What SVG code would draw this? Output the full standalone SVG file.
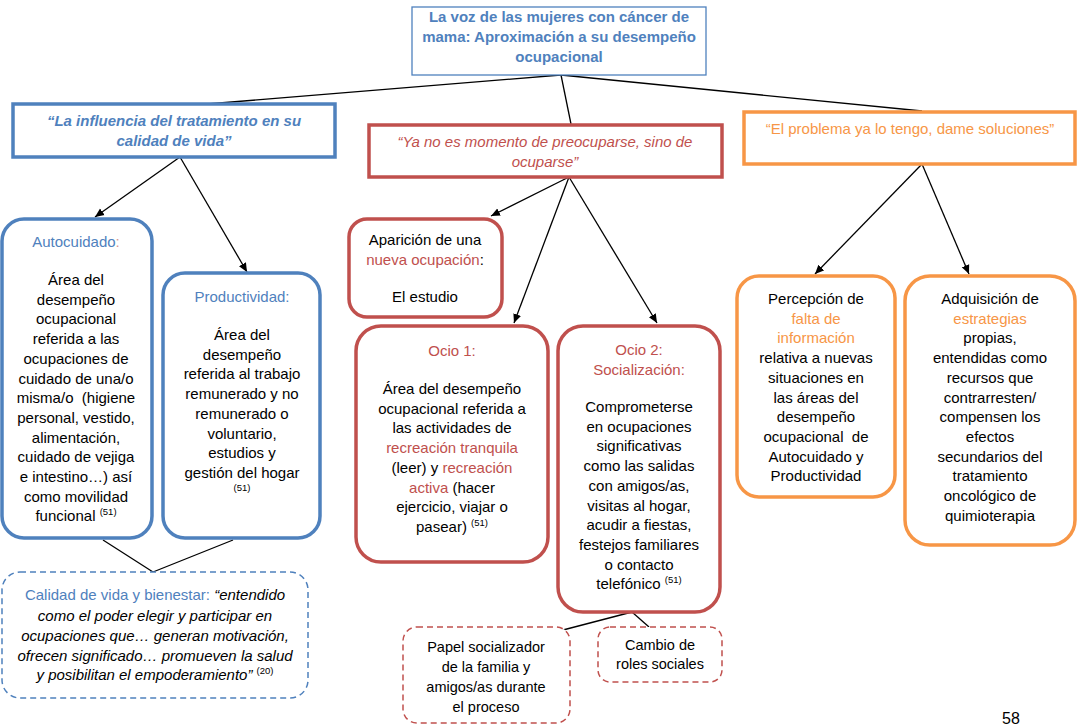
<svg xmlns="http://www.w3.org/2000/svg" width="1084" height="727" viewBox="0 0 1084 727">
<defs>
<marker id="arr" markerWidth="10" markerHeight="10" refX="9" refY="5" orient="auto" markerUnits="userSpaceOnUse">
<path d="M0,1 L9,5 L0,9 Z" fill="#000"/>
</marker>
</defs>
<style>
text{font-family:"Liberation Sans",Arial,sans-serif;font-size:15px;fill:#000;text-anchor:middle}
.b{fill:#4f81bd}.r{fill:#c0504d}.o{fill:#f79646}.pk{fill:#d99694}
.bold{font-weight:bold}.it{font-style:italic}
.sup{font-size:9.5px}
.pre{white-space:pre}
.bx{fill:#fff}
.blue{stroke:#4f81bd;stroke-width:3.5}
.red{stroke:#c0504d;stroke-width:3.5}
.org{stroke:#f79646;stroke-width:3.5}
.dash{stroke-width:1.5;stroke-dasharray:6,4}
.conn line{stroke:#000;stroke-width:1.3}
</style>
<rect width="1084" height="727" fill="#fff"/>

<g class="conn" id="connectors">
<line x1="561" y1="75" x2="207" y2="104"/>
<line x1="561" y1="75" x2="571" y2="124"/>
<line x1="561" y1="75" x2="922" y2="111"/>
<line x1="180" y1="157" x2="95" y2="217" marker-end="url(#arr)"/>
<line x1="180" y1="157" x2="247" y2="272" marker-end="url(#arr)"/>
<line x1="569" y1="177" x2="491" y2="216" marker-end="url(#arr)"/>
<line x1="569" y1="177" x2="514" y2="323" marker-end="url(#arr)"/>
<line x1="569" y1="177" x2="657" y2="323" marker-end="url(#arr)"/>
<line x1="922" y1="164" x2="815" y2="274" marker-end="url(#arr)"/>
<line x1="922" y1="164" x2="969" y2="274" marker-end="url(#arr)"/>
<line x1="103" y1="540" x2="153" y2="572"/>
<line x1="233" y1="540" x2="153" y2="572"/>
<line x1="632" y1="612" x2="563" y2="630"/>
<line x1="632" y1="612" x2="649" y2="627"/>
</g>

<g id="title">
<rect x="412" y="7" width="294" height="68" class="bx" stroke="#4f81bd" stroke-width="1.3"/>
<text class="b bold" x="559" y="22">La voz de las mujeres con cáncer de</text>
<text class="b bold" x="559" y="42">mama: Aproximación a su desempeño</text>
<text class="b bold" x="559" y="62">ocupacional</text>
</g>

<g id="influencia">
<rect x="13" y="104" width="322" height="53" class="bx blue"/>
<text class="b bold it" x="174" y="126">“La influencia del tratamiento en su</text>
<text class="b bold it" x="174" y="146">calidad de vida”</text>
</g>

<g id="yano">
<rect x="369" y="125" width="353" height="52" class="bx red"/>
<text class="r it" x="545" y="147">“Ya no es momento de preocuparse, sino de</text>
<text class="r it" x="545" y="167">ocuparse”</text>
</g>

<g id="problema">
<rect x="744" y="112" width="331" height="52" class="bx org"/>
<text class="o" x="910" y="134">“El problema ya lo tengo, dame soluciones”</text>
</g>

<g id="autocuidado">
<rect x="2" y="219" width="150" height="319" rx="22" class="bx blue"/>
<text x="76" y="247"><tspan class="b">Autocuidado</tspan><tspan class="pk">:</tspan></text>
<text x="76" y="285">Área del<tspan x="76" dy="19.7">desempeño</tspan><tspan x="76" dy="19.7">ocupacional</tspan><tspan x="76" dy="19.7">referida a las</tspan><tspan x="76" dy="19.7">ocupaciones de</tspan><tspan x="76" dy="19.7">cuidado de una/o</tspan><tspan x="76" dy="19.7" class="pre">misma/o  (higiene</tspan><tspan x="76" dy="19.7">personal, vestido,</tspan><tspan x="76" dy="19.7">alimentación,</tspan><tspan x="76" dy="19.7">cuidado de vejiga</tspan><tspan x="76" dy="19.7">e intestino…) así</tspan><tspan x="76" dy="19.7">como movilidad</tspan><tspan x="76" dy="19.7">funcional <tspan class="sup" dy="-6">(51)</tspan></tspan></text>
</g>

<g id="productividad">
<rect x="163" y="273" width="157" height="265" rx="22" class="bx blue"/>
<text class="b" x="242" y="302">Productividad:</text>
<text x="242" y="340">Área del<tspan x="242" dy="19.7">desempeño</tspan><tspan x="242" dy="19.7">referida al trabajo</tspan><tspan x="242" dy="19.7">remunerado y no</tspan><tspan x="242" dy="19.7">remunerado o</tspan><tspan x="242" dy="19.7">voluntario,</tspan><tspan x="242" dy="19.7">estudios y</tspan><tspan x="242" dy="19.7">gestión del hogar</tspan></text>
<text class="sup" x="242" y="491">(51)</text>
</g>

<g id="aparicion">
<rect x="349" y="219" width="153" height="98" rx="18" class="bx red"/>
<text x="425" y="245">Aparición de una</text>
<text x="425" y="265"><tspan class="r">nueva ocupación</tspan>:</text>
<text x="425" y="302">El estudio</text>
</g>

<g id="ocio1">
<rect x="356" y="326" width="192" height="236" rx="25" class="bx red"/>
<text class="r" x="452" y="356">Ocio 1:</text>
<text x="452" y="394">Área del desempeño<tspan x="452" dy="19.7">ocupacional referida a</tspan><tspan x="452" dy="19.7">las actividades de</tspan><tspan x="452" dy="19.7" class="r">recreación tranquila</tspan><tspan x="452" dy="19.7">(leer) y <tspan class="r">recreación</tspan></tspan><tspan x="452" dy="19.7"><tspan class="r">activa</tspan> (hacer</tspan><tspan x="452" dy="19.7">ejercicio, viajar o</tspan><tspan x="452" dy="19.7">pasear) <tspan class="sup" dy="-6">(51)</tspan></tspan></text>
</g>

<g id="ocio2">
<rect x="558" y="326" width="162" height="286" rx="25" class="bx red"/>
<text class="r" x="639" y="355">Ocio 2:<tspan x="639" dy="19.7">Socialización:</tspan></text>
<text x="639" y="412">Comprometerse<tspan x="639" dy="19.7">en ocupaciones</tspan><tspan x="639" dy="19.7">significativas</tspan><tspan x="639" dy="19.7">como las salidas</tspan><tspan x="639" dy="19.7">con amigos/as,</tspan><tspan x="639" dy="19.7">visitas al hogar,</tspan><tspan x="639" dy="19.7">acudir a fiestas,</tspan><tspan x="639" dy="19.7">festejos familiares</tspan><tspan x="639" dy="19.7">o contacto</tspan><tspan x="639" dy="19.7">telefónico <tspan class="sup" dy="-6">(51)</tspan></tspan></text>
</g>

<g id="percepcion">
<rect x="737" y="276" width="158" height="221" rx="22" class="bx org"/>
<text x="816" y="304">Percepción de<tspan x="816" dy="19.7" class="o">falta de</tspan><tspan x="816" dy="19.7" class="o">información</tspan><tspan x="816" dy="19.7">relativa a nuevas</tspan><tspan x="816" dy="19.7">situaciones en</tspan><tspan x="816" dy="19.7">las áreas del</tspan><tspan x="816" dy="19.7">desempeño</tspan><tspan x="816" dy="19.7" class="pre">ocupacional  de</tspan><tspan x="816" dy="19.7">Autocuidado y</tspan><tspan x="816" dy="19.7">Productividad</tspan></text>
</g>

<g id="adquisicion">
<rect x="905" y="276" width="170" height="269" rx="25" class="bx org"/>
<text x="990" y="304">Adquisición de<tspan x="990" dy="19.7" class="o">estrategias</tspan><tspan x="990" dy="19.7">propias,</tspan><tspan x="990" dy="19.7">entendidas como</tspan><tspan x="990" dy="19.7">recursos que</tspan><tspan x="990" dy="19.7">contrarresten/</tspan><tspan x="990" dy="19.7">compensen los</tspan><tspan x="990" dy="19.7">efectos</tspan><tspan x="990" dy="19.7">secundarios del</tspan><tspan x="990" dy="19.7">tratamiento</tspan><tspan x="990" dy="19.7">oncológico de</tspan><tspan x="990" dy="19.7">quimioterapia</tspan></text>
</g>

<g id="calidad">
<rect x="2" y="572" width="306" height="126" rx="18" class="bx dash" stroke="#4f81bd"/>
<text x="155" y="600"><tspan class="b">Calidad de vida y bienestar: </tspan><tspan class="it">“entendido</tspan></text>
<text class="it" x="155" y="621">como el poder elegir y participar en<tspan x="155" dy="20">ocupaciones que… generan motivación,</tspan><tspan x="155" dy="20">ofrecen significado… promueven la salud</tspan><tspan x="155" dy="19">y posibilitan el empoderamiento” <tspan class="sup" style="font-style:normal" dy="-6">(20)</tspan></tspan></text>
</g>

<g id="papel">
<rect x="403" y="627" width="167" height="96" rx="14" class="bx dash" stroke="#c0504d"/>
<text x="486" y="652" style="font-size:14.5px">Papel socializador<tspan x="486" dy="20">de la familia y</tspan><tspan x="486" dy="20">amigos/as durante</tspan><tspan x="486" dy="20">el proceso</tspan></text>
</g>

<g id="cambio">
<rect x="598" y="627" width="124" height="55" rx="12" class="bx dash" stroke="#c0504d"/>
<text x="660" y="650" style="font-size:14.5px">Cambio de<tspan x="660" dy="19">roles sociales</tspan></text>
</g>

<text x="1011" y="724" style="font-size:16px">58</text>
</svg>
